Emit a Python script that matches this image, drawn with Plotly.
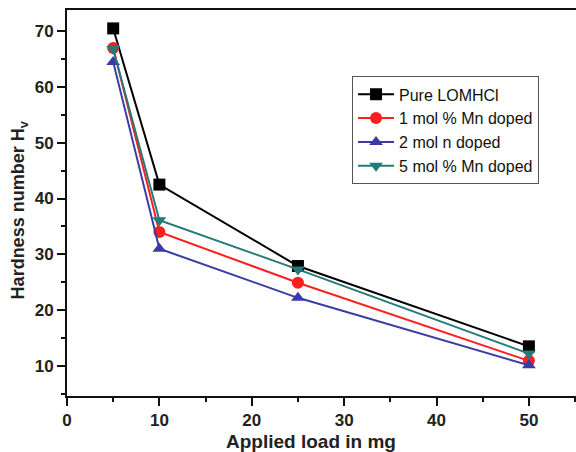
import plotly.graph_objects as go

# Applied load (mg) and Vickers hardness for each sample
load = [5, 10, 25, 50]
pure = [70.5, 42.5, 27.9, 13.5]
mn1 = [67.0, 34.0, 24.9, 10.9]
mn2 = [64.5, 31.0, 22.2, 10.1]
mn5 = [66.8, 36.1, 27.3, 12.2]

x_ticks = [0, 10, 20, 30, 40, 50]
y_ticks = [10, 20, 30, 40, 50, 60, 70]

series = [
    ("Pure LOMHCl", pure, "#000000", "square"),
    ("1 mol % Mn doped", mn1, "#FF1F1F", "circle"),
    ("2 mol n doped", mn2, "#3B3BA6", "triangle-up"),
    ("5 mol % Mn doped", mn5, "#237A77", "triangle-down"),
]

fig = go.Figure()
for name, vals, color, sym in series:
    fig.add_trace(go.Scatter(
        x=load, y=vals, name=name, mode="lines+markers",
        line=dict(color=color, width=2),
        marker=dict(symbol=sym, size=12, color=color),
    ))

font_family = "Liberation Sans, Arial, sans-serif"
axis_common = dict(
    showline=True, linecolor="#111", linewidth=2,
    ticks="outside", ticklen=8, tickwidth=2, tickcolor="#111",
    minor=dict(dtick=5, ticks="outside", ticklen=4, tickwidth=2, tickcolor="#111"),
    showgrid=False, zeroline=False,
    tickfont=dict(size=17, family=font_family, color="#222"),
)

fig.update_layout(
    width=576, height=452,
    margin=dict(l=67, r=0, t=10, b=56),
    paper_bgcolor="white", plot_bgcolor="white",
    font=dict(family=font_family, color="#222"),
    legend=dict(
        x=0.56, y=0.828, xanchor="left", yanchor="top",
        bordercolor="#555", borderwidth=1, bgcolor="white",
        font=dict(size=16, color="#111"),
        tracegroupgap=0, itemwidth=36,
    ),
    showlegend=True,
)
fig.update_xaxes(
    range=[0, 55.1], tickvals=x_ticks,
    ticktext=[f"<b>{v}</b>" for v in x_ticks],
    mirror=True,
    **axis_common,
)
fig.update_yaxes(
    range=[4.6, 73.8], tickvals=y_ticks,
    ticktext=[f"<b>{v}</b>" for v in y_ticks],
    mirror=False,
    **axis_common,
)

# Axis titles placed as annotations
fig.add_annotation(
    text="<b>Applied load in mg</b>", xref="paper", yref="paper",
    x=0.479, y=-0.117, xanchor="center", yanchor="middle",
    showarrow=False, font=dict(size=19, color="#222"),
)
fig.add_annotation(
    text="<b>Hardness number H<sub>v</sub></b>", xref="paper", yref="paper",
    x=-0.093, y=0.48, xanchor="center", yanchor="middle", textangle=-90,
    showarrow=False, font=dict(size=18, color="#222"),
)

fig.write_html("out.html")
